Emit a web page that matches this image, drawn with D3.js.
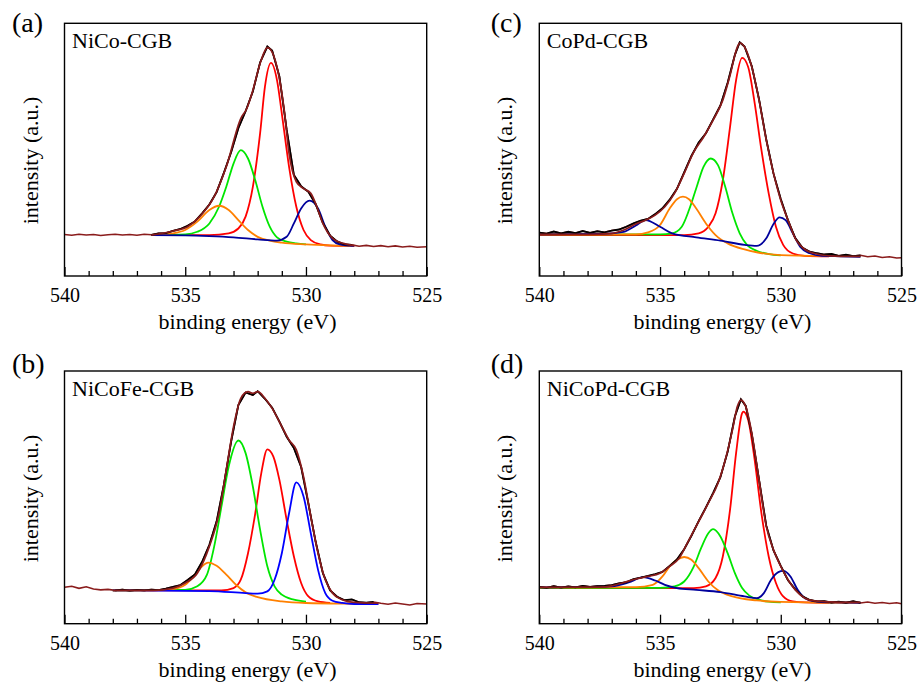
<!DOCTYPE html>
<html>
<head>
<meta charset="utf-8">
<script src="https://cdn.jsdelivr.net/npm/d3@7"></script>
<style>
body { margin: 0; background: #fff; }
text { font-family: "Liberation Serif", "Times New Roman", serif; fill: #000; }
</style>
</head>
<body>
<svg id="stage" width="919" height="686"></svg>
<script>

// axis ticks (binding energy, eV)
var majorTicks = [540, 535, 530, 525];
var minorTicks = [539, 538, 537, 536, 534, 533, 532, 531, 529, 528, 527, 526];

// ---------- (a) NiCo-CGB ----------
var fitA = [536.4, 528.0];
var rawA = [[540,16.4],[539.7,16.1],[539.4,16.5],[539.1,16.2],[538.8,16.4],[538.5,16.0],[538.2,16.3],[537.9,16.5],[537.6,16.2],[537.3,16.4],[537.0,16.1],[536.7,16.5],[536.4,16.3],[536.1,16.9],[535.8,17.0],[535.5,17.9],[535.2,18.6],[534.9,19.9],[534.6,21.6],[534.3,24.8],[534.0,28.3],[533.7,33.2],[533.4,40.8],[533.1,49.0],[532.8,58.5],[532.5,65.2],[532.2,73.0],[531.9,84.5],[531.6,90.8],[531.4,89.2],[531.1,79.0],[530.8,58.0],[530.5,40.0],[530.2,35.5],[529.9,33.3],[529.6,28.5],[529.3,21.0],[529.0,16.0],[528.7,13.6],[528.4,12.5],[528.1,12.3],[527.8,11.8],[527.5,12.1],[527.2,11.7],[526.9,12.0],[526.6,11.6],[526.3,11.9],[526.0,11.5],[525.7,11.8],[525.4,11.4],[525.0,11.6]];
var envA = [[536.4,16.2],[535.5,17.8],[534.9,19.5],[534.4,23.5],[533.8,31.4],[533.3,43.2],[532.7,62.3],[532.45,66.3],[532.2,73.5],[531.9,84.1],[531.6,90.4],[531.5,90.0],[531.2,82.7],[530.9,65.6],[530.7,48.5],[530.4,37.3],[530.1,34.6],[529.8,32.7],[529.55,27.4],[529.3,20.8],[528.9,14.9],[528.45,12.9],[528.0,12.0]];
var orangeA = [[536.4,16.2],[535.5,16.9],[535.0,18.2],[534.5,21.5],[534.0,26.1],[533.6,27.8],[533.2,26.1],[532.8,22.1],[532.4,18.2],[532.0,15.5],[531.5,14.0],[531.0,13.2],[530.0,12.5],[529.0,12.1],[528.0,11.9]];
var greenA = [[536.4,16.2],[535.0,16.5],[534.5,17.5],[534.0,20.8],[533.6,27.4],[533.3,35.3],[533.0,44.5],[532.7,49.8],[532.4,46.5],[532.1,37.9],[531.8,27.4],[531.5,19.5],[531.2,15.3],[530.8,13.6],[530.4,12.9],[530.0,12.5]];
var redA = [[536.4,16.2],[534.0,16.2],[533.2,16.9],[532.8,18.8],[532.5,23.5],[532.2,35.3],[531.9,56.4],[531.7,74.8],[531.45,84.3],[531.2,77.5],[531.0,64.3],[530.7,43.2],[530.4,27.4],[530.1,18.2],[529.8,14.2],[529.4,12.5],[529.0,12.0],[528.0,11.9]];
var blueA = [[536.4,16.2],[535.0,16.1],[534.0,15.8],[533.0,15.3],[532.0,14.5],[531.2,14.0],[530.8,15.5],[530.5,20.8],[530.2,26.7],[529.85,29.8],[529.5,26.7],[529.2,19.5],[528.9,14.2],[528.6,12.5],[528.2,12.0],[528.0,11.9]];

// ---------- (b) NiCoFe-CGB ----------
var fitB = [538.0, 527.0];
var rawB = [[540,14.4],[539.7,14.8],[539.4,14.0],[539.1,14.6],[538.8,13.7],[538.5,13.4],[538.2,13.6],[537.9,13.2],[537.6,13.5],[537.3,13.1],[537.0,13.4],[536.7,13.2],[536.4,13.5],[536.1,13.3],[535.8,13.9],[535.5,14.6],[535.2,15.3],[534.9,17.3],[534.6,19.5],[534.3,24.5],[534.0,31.2],[533.7,40.5],[533.4,55.0],[533.1,72.0],[532.8,86.5],[532.5,91.5],[532.2,90.5],[532.0,92.0],[531.7,89.0],[531.4,85.5],[531.1,80.0],[530.8,74.0],[530.5,69.5],[530.2,62.0],[529.9,47.5],[529.6,32.5],[529.3,20.0],[529.0,13.2],[528.7,10.6],[528.4,9.3],[528.1,9.6],[527.8,8.5],[527.5,8.3],[527.2,8.6],[526.9,8.1],[526.6,7.7],[526.3,8.2],[526.0,7.8],[525.7,7.4],[525.4,8.0],[525.0,7.8]];
var envB = [[538.0,13.2],[536.3,13.2],[535.5,14.1],[535.0,16.1],[534.5,20.0],[534.0,30.6],[533.6,43.7],[533.3,60.9],[533.0,78.0],[532.7,89.2],[532.4,91.8],[532.2,91.2],[532.0,91.8],[531.7,89.2],[531.4,85.2],[531.0,78.0],[530.7,72.7],[530.4,68.8],[530.1,58.2],[529.8,42.4],[529.5,27.9],[529.2,17.4],[528.9,12.1],[528.5,9.5],[528.0,8.4],[527.0,8.1]];
var orangeB = [[538.0,13.2],[536.3,13.2],[535.5,13.7],[535.0,15.4],[534.6,19.4],[534.3,22.7],[534.05,24.2],[533.7,22.9],[533.3,19.4],[532.9,15.4],[532.5,12.4],[532.0,10.5],[531.0,8.8],[530.0,8.2],[528.0,7.9],[527.0,7.8]];
var greenB = [[538.0,13.2],[535.0,13.4],[534.5,14.8],[534.1,19.4],[533.8,30.6],[533.5,46.4],[533.2,62.2],[532.8,72.5],[532.5,67.5],[532.2,54.3],[531.9,37.2],[531.6,22.7],[531.3,14.8],[531.0,11.5],[530.5,9.5],[530.0,8.7]];
var redB = [[538.0,13.2],[533.5,13.2],[533.0,14.1],[532.7,17.4],[532.4,27.9],[532.1,43.7],[531.85,59.6],[531.6,69.0],[531.35,66.1],[531.1,56.9],[530.8,41.1],[530.5,26.6],[530.2,16.1],[529.9,10.8],[529.5,8.8],[529.0,8.2]];
var blueB = [[538.0,13.2],[534.0,12.9],[532.5,12.1],[532.0,11.9],[531.6,12.8],[531.3,17.4],[531.0,27.9],[530.7,43.7],[530.4,55.9],[530.1,50.3],[529.8,35.8],[529.5,21.3],[529.2,12.1],[528.9,9.1],[528.5,8.2],[528.0,7.8],[527.0,7.8]];

// ---------- (c) CoPd-CGB ----------
var fitC = [540.0, 526.7];
var rawC = [[540,17.2],[539.7,16.8],[539.4,17.6],[539.1,16.9],[538.8,17.5],[538.5,17.0],[538.2,17.8],[537.9,17.1],[537.6,17.7],[537.3,17.3],[537.0,18.0],[536.7,18.4],[536.4,19.5],[536.1,20.8],[535.8,21.9],[535.5,22.6],[535.2,24.5],[534.9,26.8],[534.6,30.2],[534.3,34.5],[534.0,41.0],[533.7,47.5],[533.4,52.8],[533.1,56.5],[532.8,62.0],[532.5,67.5],[532.2,76.5],[531.9,87.5],[531.7,92.5],[531.5,90.8],[531.2,83.0],[530.9,70.0],[530.6,54.0],[530.3,40.5],[530.0,30.5],[529.7,22.0],[529.4,15.0],[529.1,11.2],[528.8,9.6],[528.5,9.0],[528.2,8.5],[527.9,8.7],[527.6,8.0],[527.3,8.4],[527.0,7.9],[526.7,8.2],[526.4,7.6],[526.1,7.9],[525.8,7.3],[525.5,7.6],[525.2,7.1],[525.0,7.2]];
var envC = [[540.0,16.5],[538.0,16.5],[537.0,16.9],[536.5,18.2],[536.0,20.6],[535.6,22.1],[535.2,24.1],[534.8,27.4],[534.4,32.7],[534.0,40.6],[533.6,49.1],[533.2,54.9],[532.8,61.7],[532.4,69.6],[532.1,79.4],[531.8,90.6],[531.7,92.2],[531.5,90.6],[531.2,82.7],[530.9,69.6],[530.6,53.8],[530.3,40.6],[530.0,30.0],[529.7,22.1],[529.4,14.9],[529.0,10.5],[528.5,8.7],[528.0,8.0],[527.0,7.8],[526.7,7.8]];
var orangeC = [[540.0,16.5],[536.0,16.5],[535.5,17.3],[535.0,20.2],[534.6,26.7],[534.3,30.4],[534.05,31.4],[533.8,30.4],[533.5,26.7],[533.1,20.8],[532.7,16.2],[532.2,12.9],[531.5,10.5],[531.0,9.4],[530.0,8.3],[528.0,7.9],[526.7,7.8]];
var greenC = [[540.0,16.5],[535.0,16.5],[534.5,16.9],[534.1,19.5],[533.8,26.1],[533.5,34.7],[533.2,43.2],[532.9,46.5],[532.6,43.9],[532.3,35.3],[532.0,24.8],[531.7,16.9],[531.4,12.3],[531.0,10.0],[530.5,8.7],[530.0,8.2]];
var redC = [[540.0,16.2],[534.0,16.2],[533.4,16.9],[533.0,19.5],[532.7,24.8],[532.4,37.9],[532.1,59.0],[531.85,77.5],[531.6,86.3],[531.35,82.7],[531.1,69.6],[530.8,49.8],[530.5,32.7],[530.2,19.5],[529.9,12.3],[529.5,8.9],[529.0,8.0],[528.0,7.8]];
var blueC = [[540.0,16.5],[537.5,16.7],[536.5,17.5],[536.0,20.0],[535.6,22.1],[535.0,19.5],[534.5,16.9],[533.5,15.3],[532.5,14.0],[531.5,12.3],[531.0,11.9],[530.6,14.9],[530.3,20.6],[530.05,23.2],[529.8,22.1],[529.5,16.9],[529.2,11.6],[528.8,9.0],[528.3,8.0],[527.5,7.8],[526.7,7.6]];

// ---------- (d) NiCoPd-CGB ----------
var fitD = [540.0, 526.7];
var rawD = [[540,14.6],[539.7,14.2],[539.4,14.9],[539.1,14.3],[538.8,14.8],[538.5,14.4],[538.2,15.0],[537.9,14.6],[537.6,14.9],[537.3,15.0],[537.0,15.3],[536.7,16.0],[536.4,16.4],[536.1,17.6],[535.8,18.2],[535.5,18.9],[535.2,19.6],[534.9,20.5],[534.6,22.9],[534.3,25.4],[534.0,29.5],[533.7,34.8],[533.4,40.6],[533.1,46.0],[532.8,51.8],[532.5,58.0],[532.2,68.0],[531.9,82.0],[531.65,88.8],[531.45,86.2],[531.2,75.0],[530.9,57.0],[530.6,38.8],[530.3,29.0],[530.0,22.9],[529.7,17.2],[529.4,13.6],[529.1,10.8],[528.8,9.4],[528.5,8.8],[528.2,8.9],[527.9,8.4],[527.6,8.7],[527.3,8.3],[527.0,8.9],[526.7,8.2],[526.4,8.6],[526.1,8.1],[525.8,8.4],[525.5,8.0],[525.2,8.3],[525.0,7.9]];
var envD = [[540.0,14.4],[537.5,14.5],[537.0,15.0],[536.5,16.3],[536.0,17.7],[535.5,18.7],[535.0,20.0],[534.6,22.7],[534.2,26.0],[533.8,33.2],[533.4,40.4],[533.0,47.7],[532.6,55.6],[532.3,64.8],[532.0,76.7],[531.8,85.9],[531.65,88.5],[531.45,85.9],[531.2,75.4],[530.9,56.9],[530.6,38.5],[530.3,29.2],[530.0,22.7],[529.7,17.4],[529.4,13.4],[529.0,10.1],[528.6,9.0],[528.0,8.6],[527.0,8.4],[526.7,8.4]];
var orangeD = [[540.0,14.4],[536.0,14.5],[535.3,15.4],[534.9,18.7],[534.6,22.7],[534.3,25.3],[534.0,26.4],[533.7,25.3],[533.4,22.0],[533.0,16.7],[532.6,13.2],[532.0,10.8],[531.0,9.2],[530.0,8.6],[528.0,8.3],[526.7,8.3]];
var greenD = [[540.0,14.2],[535.0,14.2],[534.4,14.8],[534.0,16.7],[533.6,22.7],[533.3,29.9],[533.0,35.8],[532.8,37.4],[532.5,34.5],[532.2,27.9],[531.9,20.0],[531.6,14.1],[531.3,11.1],[530.9,9.5],[530.5,8.7],[530.0,8.4]];
var redD = [[540.0,14.1],[533.6,14.1],[533.1,14.8],[532.7,18.1],[532.4,26.6],[532.1,45.1],[531.85,67.5],[531.6,83.3],[531.55,83.9],[531.35,80.6],[531.1,66.1],[530.8,43.7],[530.5,26.6],[530.2,16.1],[529.9,10.8],[529.5,8.8],[529.0,8.4],[528.0,8.3]];
var blueD = [[540.0,14.4],[537.0,14.8],[536.3,16.3],[535.7,18.4],[535.2,17.1],[534.8,15.4],[534.3,14.1],[533.5,13.4],[532.5,12.5],[531.5,10.8],[531.0,10.1],[530.7,12.1],[530.4,17.4],[530.1,20.4],[529.9,20.9],[529.6,18.7],[529.3,13.4],[529.0,10.1],[528.6,8.8],[528.0,8.4],[526.7,8.3]];

var panels = [
  {label: "(a)", name: "NiCo-CGB",   fit: fitA, raw: rawA, env: envA, comps: [redA, greenA, orangeA, blueA], blue: "#00009c"},
  {label: "(b)", name: "NiCoFe-CGB", fit: fitB, raw: rawB, env: envB, comps: [redB, greenB, orangeB, blueB], blue: "#0000ff"},
  {label: "(c)", name: "CoPd-CGB",   fit: fitC, raw: rawC, env: envC, comps: [redC, greenC, orangeC, blueC], blue: "#00009c"},
  {label: "(d)", name: "NiCoPd-CGB", fit: fitD, raw: rawD, env: envD, comps: [redD, greenD, orangeD, blueD], blue: "#00009c"}
];

// where each panel box sits on the page
var boxes = [
  {x: 64.5,  y: 23.3, labelX: 12,    labelY: 32,  ylabY: 160.5},
  {x: 64.5,  y: 371,  labelX: 12,    labelY: 373, ylabY: 498.5},
  {x: 539.3, y: 23.3, labelX: 490.7, labelY: 32,  ylabY: 160.5},
  {x: 539.3, y: 371,  labelX: 490.7, labelY: 373, ylabY: 498.5}
];
var w = 362.2, h = 252.7;
var darkRed = "#8a1c1c";

var svg = d3.select("#stage");

var x = d3.scaleLinear().domain([540, 525]).range([0, w]);
var y = d3.scaleLinear().domain([0, 100]).range([h, 0]);

var smooth = d3.line().x(function(d){ return x(d[0]); }).y(function(d){ return y(d[1]); }).curve(d3.curveMonotoneX);
var jagged = d3.line().x(function(d){ return x(d[0]); }).y(function(d){ return y(d[1]); });

panels.forEach(function(p, i){
  var b = boxes[i];
  var g = svg.append("g").attr("transform", "translate(" + b.x + "," + b.y + ")");

  //full spectrum
  g.append("path").attr("d", jagged(p.raw))
    .attr("fill", "none").attr("stroke", darkRed).attr("stroke-width", 1.6);

  //fitted components
  var colors = ["#ff0000", "#00e600", "#ff8000", p.blue];
  p.comps.forEach(function(c, k){
    g.append("path").attr("d", smooth(c))
      .attr("fill", "none").attr("stroke", colors[k]).attr("stroke-width", 1.8);
  });

  //raw data inside fit window
  var inFit = p.raw.filter(function(d){ return d[0] <= p.fit[0] && d[0] >= p.fit[1]; });
  g.append("path").attr("d", jagged(inFit))
    .attr("fill", "none").attr("stroke", "#000").attr("stroke-width", 1.8);

  //envelope
  g.append("path").attr("d", smooth(p.env))
    .attr("fill", "none").attr("stroke", darkRed).attr("stroke-width", 1.7);

  //frame
  g.append("rect").attr("width", w).attr("height", h)
    .attr("fill", "none").attr("stroke", "#000").attr("stroke-width", 1.4);

  var major = g.append("g").attr("transform", "translate(0," + h + ")")
    .call(d3.axisBottom(x).tickValues(majorTicks).tickSize(-9).tickPadding(12).tickFormat(d3.format("d")));
  major.select(".domain").remove();
  major.selectAll("line").attr("stroke-width", 1.3);
  major.selectAll("text").style("font-size", "20px").style("font-family", "Liberation Serif, serif");

  var minor = g.append("g").attr("transform", "translate(0," + h + ")")
    .call(d3.axisBottom(x).tickValues(minorTicks).tickSize(-5).tickFormat(""));
  minor.select(".domain").remove();
  minor.selectAll("line").attr("stroke-width", 1.3);

  g.append("text").attr("x", w / 2 + 2).attr("y", h + 53)
    .attr("text-anchor", "middle").style("font-size", "22px").text("binding energy (eV)");

  g.append("text").attr("x", 7.5).attr("y", 24.5)
    .style("font-size", "22px").text(p.name);

  svg.append("text")
    .attr("transform", "translate(" + (b.x - 27) + "," + b.ylabY + ") rotate(-90)")
    .attr("text-anchor", "middle").style("font-size", "22px").text("intensity (a.u.)");

  svg.append("text").attr("x", b.labelX).attr("y", b.labelY)
    .style("font-size", "28px").text(p.label);
});

</script>
</body>
</html>
